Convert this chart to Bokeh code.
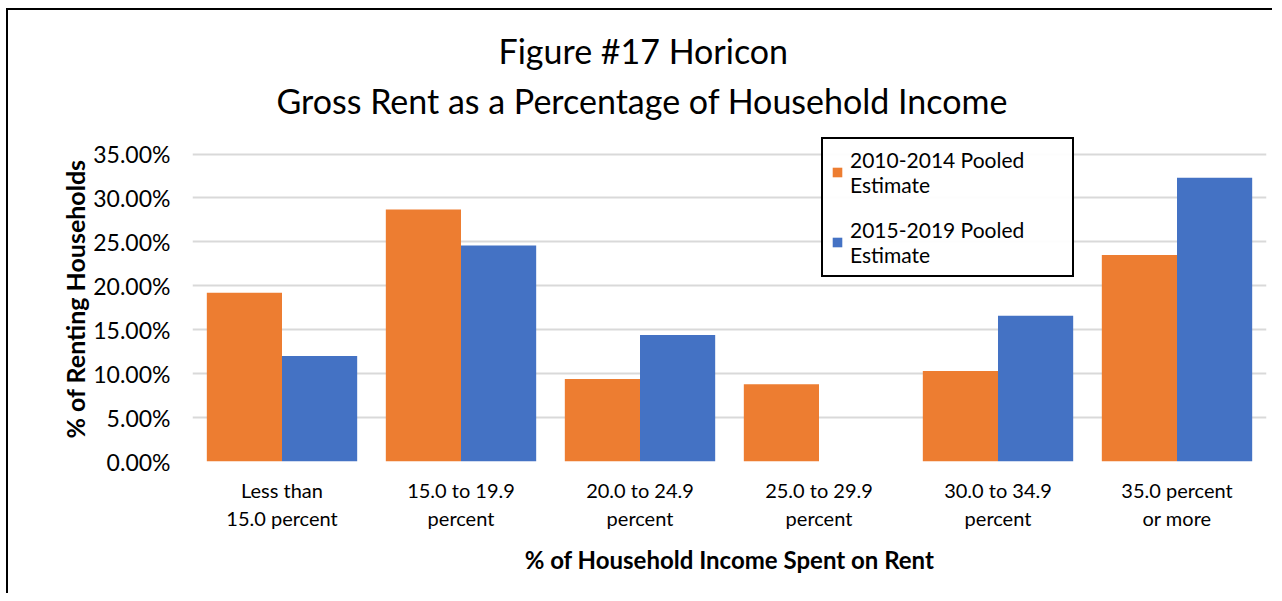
from bokeh.plotting import figure
from bokeh.models import (FactorRange, Legend, LegendItem, Title, NumeralTickFormatter,
                          SingleIntervalTicker, ColumnDataSource, Range1d)
from bokeh.transform import dodge
from bokeh.embed import file_html
from bokeh.resources import INLINE

# ---- data ----
categories = ["Less than\n15.0 percent", "15.0 to 19.9\npercent", "20.0 to 24.9\npercent",
              "25.0 to 29.9\npercent", "30.0 to 34.9\npercent", "35.0 percent\nor more"]
est_2010_2014 = [0.192, 0.287, 0.094, 0.088, 0.103, 0.235]
est_2015_2019 = [0.120, 0.246, 0.144, 0.000, 0.166, 0.323]
series_names = ["2010-2014 Pooled\nEstimate", "2015-2019 Pooled\nEstimate"]
title_lines = ["Figure #17  Horicon", "Gross Rent as a Percentage of Household Income"]
x_title = "% of Household Income Spent on Rent"
y_title = "% of Renting Households"

FONT = "Lato"
ORANGE = "#ED7D31"
BLUE = "#4472C4"

src = ColumnDataSource(dict(cat=categories, a=est_2010_2014, b=est_2015_2019))

p = figure(x_range=FactorRange(factors=categories, range_padding=0),
           y_range=Range1d(0, 0.37),
           width=1266, height=585, output_backend="svg", toolbar_location=None,
           min_border_left=184, min_border_right=8, min_border_top=126, min_border_bottom=134,
           styles={"border-left": "2px solid black", "border-top": "2px solid black",
                   "margin-left": "6px", "margin-top": "8px"})
p.outline_line_color = None

r1 = p.vbar(x=dodge('cat', -0.21, range=p.x_range), top='a', width=0.42, source=src,
            fill_color=ORANGE, line_color=None)
r2 = p.vbar(x=dodge('cat', 0.21, range=p.x_range), top='b', width=0.42, source=src,
            fill_color=BLUE, line_color=None)

# axes
p.yaxis.ticker = SingleIntervalTicker(interval=0.05)
p.yaxis.formatter = NumeralTickFormatter(format="0.00%")
for ax in (p.xaxis[0], p.yaxis[0]):
    ax.axis_line_color = None
    ax.major_tick_line_color = None
    ax.minor_tick_line_color = None
    ax.major_label_text_font = FONT
    ax.major_label_text_color = "black"
    ax.axis_label_text_font = FONT
    ax.axis_label_text_font_style = "bold"
    ax.axis_label_text_color = "black"
    ax.axis_label_text_font_size = "24px"
p.yaxis.axis_label_text_font_size = "25px"
p.yaxis.major_label_text_font_size = "23px"
p.xaxis.major_label_text_font_size = "20px"
p.xaxis.major_label_text_line_height = 1.2
p.xaxis.axis_label = x_title
p.yaxis.axis_label = y_title
p.xaxis.major_label_standoff = 10
p.xaxis.axis_label_standoff = 12
p.yaxis.major_label_standoff = 16
p.yaxis.axis_label_standoff = 0

p.xgrid.grid_line_color = None
p.ygrid.grid_line_color = "#D9D9D9"
p.ygrid.grid_line_width = 2

# legend
legend = Legend(items=[LegendItem(label=series_names[0], renderers=[r1]),
                       LegendItem(label=series_names[1], renderers=[r2])],
                location=(629, 184))
legend.border_line_color = "black"
legend.border_line_alpha = 1.0
legend.border_line_width = 2
legend.label_text_font = FONT
legend.label_text_font_size = "21px"
legend.label_text_color = "black"
legend.label_width = 214
legend.label_standoff = 7
legend.glyph_width = 12
legend.glyph_height = 12
legend.padding = 8
legend.spacing = 20
legend.margin = 0
p.add_layout(legend, "center")

# title (two lines)
t2 = Title(text=title_lines[1], text_font=FONT, text_font_size="34px", text_color="black",
           text_font_style="normal", align="left", offset=84, standoff=31)
t1 = Title(text=title_lines[0], text_font=FONT, text_font_size="34px", text_color="black",
           text_font_style="normal", align="left", offset=306, standoff=-16)
p.add_layout(t2, "above")
p.add_layout(t1, "above")

open("out.html", "w").write(file_html(p, INLINE))
